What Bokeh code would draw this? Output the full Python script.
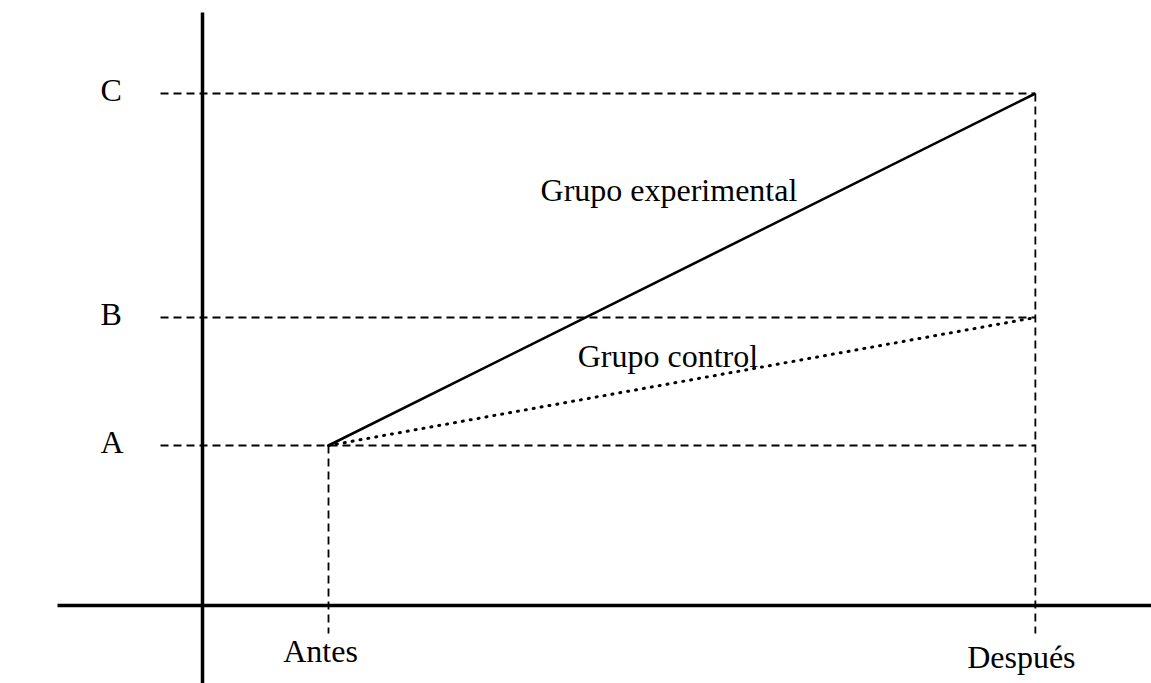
from bokeh.plotting import figure
from bokeh.models import Range1d
from bokeh.core.properties import value
from bokeh.embed import file_html
from bokeh.resources import INLINE

# ---- data ----
phases = ["Antes", "Después"]
phase_x = [1.0, 6.61]
levels = ["A", "B", "C"]
level_y = [1.0, 1.8, 3.2]
experimental = [1.0, 3.2]   # A -> C
control = [1.0, 1.8]        # A -> B
series_names = ["Grupo experimental", "Grupo control"]

# ---- figure geometry ----
W, H = 1151, 683
UX, UY = 126.0, 160.0          # pixels per data unit
X0_PX, Y0_PX = 202.0, 605.0    # canvas position of the origin
x_start, x_end = -X0_PX / UX, (W - X0_PX) / UX
y_start, y_end = -(H - Y0_PX) / UY, Y0_PX / UY

p = figure(width=W, height=H, output_backend="svg", toolbar_location=None,
           x_range=Range1d(x_start, x_end), y_range=Range1d(y_start, y_end),
           min_border=0, x_axis_location=None, y_axis_location=None)
p.grid.visible = False
p.outline_line_color = None
p.background_fill_color = "white"
p.border_fill_color = "white"

FONT = value("Liberation Serif")
black = "black"
DY = -12  # baseline correction

# axes lines
p.segment(x0=[0], y0=[y_start], x1=[0], y1=[y_end - 12 / UY], line_color=black, line_width=3.5)
p.segment(x0=[x_start + 57 / UX], y0=[0], x1=[x_end], y1=[0], line_color=black, line_width=3.5)

# horizontal dashed guides
guide_left = -42 / UX
p.segment(x0=[guide_left] * len(level_y), y0=level_y,
          x1=[phase_x[1]] * len(level_y), y1=level_y,
          line_color=black, line_width=1.8, line_dash="8 5")

# vertical dashed guides
drop = -28 / UY
p.segment(x0=phase_x, y0=[experimental[0], experimental[1]],
          x1=phase_x, y1=[drop, drop],
          line_color=black, line_width=1.8, line_dash="8 5")

# series lines
p.line(phase_x, experimental, line_color=black, line_width=2.6)
p.line(phase_x, control, line_color=black, line_width=3,
       line_dash="1 7", line_cap="round")

# level labels
p.text(x=[-102 / UX] * len(levels), y=level_y, text=levels,
       text_font=FONT, text_font_size="32px", text_color=black,
       text_align="left", text_baseline="alphabetic", y_offset=8 + DY)

# phase labels
p.text(x=[phase_x[0]], y=[0], text=[phases[0]], text_font=FONT,
       text_font_size="32px", text_color=black, text_align="center",
       text_baseline="alphabetic", x_offset=-8, y_offset=57 + DY)
p.text(x=[phase_x[1]], y=[0], text=[phases[1]], text_font=FONT,
       text_font_size="32px", text_color=black, text_align="center",
       text_baseline="alphabetic", x_offset=-14, y_offset=63 + DY)

# series labels, anchored at line midpoints
mx = (phase_x[0] + phase_x[1]) / 2
p.text(x=[mx], y=[(experimental[0] + experimental[1]) / 2], text=[series_names[0]],
       text_font=FONT, text_font_size="32px", text_color=black,
       text_align="center", text_baseline="alphabetic", x_offset=-13, y_offset=-68 + DY)
p.text(x=[mx], y=[(control[0] + control[1]) / 2], text=[series_names[1]],
       text_font=FONT, text_font_size="32px", text_color=black,
       text_align="center", text_baseline="alphabetic", x_offset=-14, y_offset=-14 + DY)

open("out.html", "w").write(file_html(p, INLINE))
